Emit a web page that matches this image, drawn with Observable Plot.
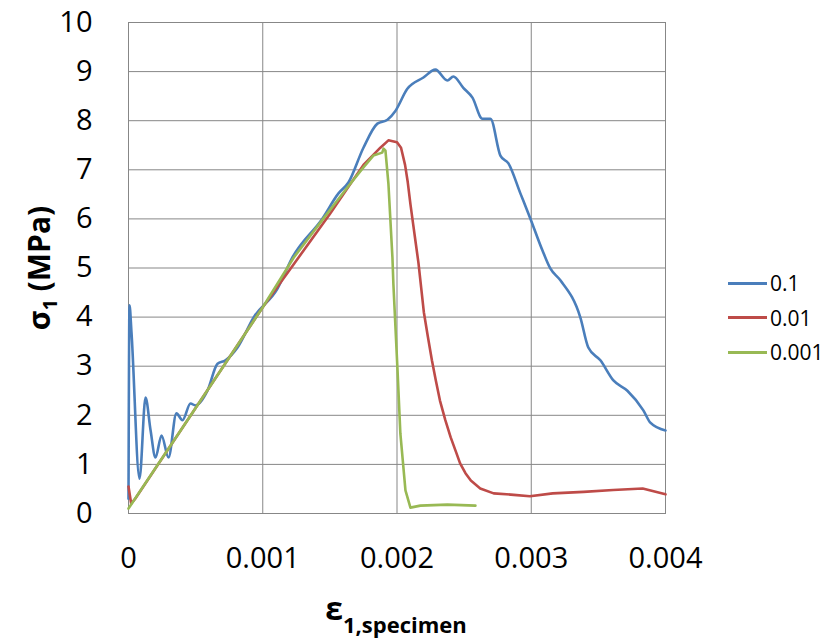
<!DOCTYPE html>
<html>
<head>
<meta charset="utf-8">
<script src="https://cdn.jsdelivr.net/npm/d3@7"></script>
<script src="https://cdn.jsdelivr.net/npm/@observablehq/plot@0.6"></script>
<style>
  html, body { margin: 0; padding: 0; background: #fff; }
  #wrap { position: relative; width: 836px; height: 639px; font-family: "Open Sans", sans-serif; }
  #legend { position: absolute; left: 728px; top: 266px; }
  .item { display: flex; align-items: center; height: 34.5px; font-size: 21px; color: #000; }
  .sw { width: 39px; height: 3px; margin-right: 3px; }
</style>
</head>
<body>
<div id="wrap"></div>
<script>
// Series names
const seriesNames = ["0.1", "0.01", "0.001"];
const seriesColors = ["#4a7ebb", "#be4b48", "#98b954"];

// Series 0.1
const strain01 = [0, 0.0000074, 0.000022, 0.000082, 0.000127, 0.000164, 0.000201, 0.000246, 0.000298, 0.000357, 0.000402, 0.000462, 0.000499, 0.000588, 0.000663, 0.000722, 0.000812, 0.000931, 0.00111, 0.00122, 0.001445, 0.001564, 0.001638, 0.00175, 0.001854, 0.001929, 0.001988, 0.002077, 0.002197, 0.002286, 0.002375, 0.00242, 0.002494, 0.002562, 0.002636, 0.002696, 0.00277, 0.00283, 0.002919, 0.002993, 0.003083, 0.003142, 0.003217, 0.003366, 0.003425, 0.003515, 0.003612, 0.003716, 0.003835, 0.003887, 0.004];
const stress01 = [0.3, 4.24, 3.7, 0.71, 2.36, 1.7, 1.14, 1.59, 1.14, 2.04, 1.9, 2.24, 2.2, 2.5, 3.05, 3.12, 3.38, 3.99, 4.58, 5.21, 6.01, 6.52, 6.74, 7.45, 7.94, 8.02, 8.2, 8.65, 8.88, 9.04, 8.82, 8.9, 8.67, 8.47, 8.04, 8.04, 7.29, 7.13, 6.52, 6.01, 5.36, 4.99, 4.75, 3.99, 3.38, 3.12, 2.71, 2.5, 2.1, 1.85, 1.69];

// Series 0.01
const strain001 = [0, 0.00002, 0.00005, 0.0005, 0.001, 0.0015, 0.00175, 0.00184, 0.001876, 0.001936, 0.002, 0.00203, 0.00206, 0.00208, 0.0021, 0.00212, 0.00214, 0.00216, 0.00218, 0.0022, 0.00223, 0.00226, 0.00229, 0.00232, 0.00236, 0.0024, 0.00244, 0.00247, 0.00251, 0.00255, 0.00262, 0.00272, 0.00287, 0.00299, 0.00316, 0.00339, 0.00361, 0.00383, 0.004];
const stress001 = [0.55, 0.2, 0.3, 2.15, 4.2, 6.1, 7.1, 7.35, 7.45, 7.6, 7.56, 7.45, 7.1, 6.75, 6.3, 5.9, 5.5, 5.1, 4.6, 4.1, 3.6, 3.12, 2.7, 2.3, 1.9, 1.55, 1.25, 1.02, 0.82, 0.67, 0.51, 0.41, 0.38, 0.35, 0.41, 0.44, 0.48, 0.51, 0.39];

// Series 0.001
const strain0001 = [0, 0.0005, 0.001, 0.00123, 0.00145, 0.00163, 0.00175, 0.001824, 0.00189, 0.0019, 0.001914, 0.001936, 0.001966, 0.001973, 0.002003, 0.002025, 0.002063, 0.0021, 0.002174, 0.002375, 0.002584];
const stress0001 = [0.1, 2.15, 4.2, 5.21, 6.0, 6.64, 7.05, 7.29, 7.35, 7.43, 7.39, 6.72, 5.21, 4.68, 2.97, 1.63, 0.47, 0.12, 0.16, 0.18, 0.16];

// Ticks
const xTicks = [0, 0.001, 0.002, 0.003, 0.004];
const xTickLabels = ["0", "0.001", "0.002", "0.003", "0.004"];
const yTicks = [0, 1, 2, 3, 4, 5, 6, 7, 8, 9, 10];
const yTickLabels = ["0", "1", "2", "3", "4", "5", "6", "7", "8", "9", "10"];

const toRows = (name, xs, ys) => xs.map((x, i) => ({series: name, x, y: ys[i]}));
const rowsBlue = toRows(seriesNames[0], strain01, stress01);
const rowsRed = toRows(seriesNames[1], strain001, stress001);
const rowsGreen = toRows(seriesNames[2], strain0001, stress0001);

const grid = "#878787";
const chart = Plot.plot({
  width: 836,
  height: 639,
  marginLeft: 128,
  marginRight: 171,
  marginTop: 22,
  marginBottom: 126,
  style: {fontFamily: "Open Sans, sans-serif", color: "#000", background: "#fff"},
  x: {domain: [0, 0.004]},
  y: {domain: [0, 10]},
  color: {domain: seriesNames, range: seriesColors},
  marks: [
    Plot.ruleX(xTicks, {x: d => d, stroke: grid, strokeWidth: 1}),
    Plot.ruleY(yTicks, {y: d => d, stroke: grid, strokeWidth: 1}),
    Plot.frame({stroke: grid, strokeWidth: 1}),
    Plot.axisX(xTicks, {tickSize: 0, tickPadding: 34, fontSize: 29, tickFormat: d => xTickLabels[xTicks.indexOf(d)], label: null}),
    Plot.axisY(yTicks, {tickSize: 0, tickPadding: 36, fontSize: 29, tickFormat: d => yTickLabels[yTicks.indexOf(d)], label: null}),
    Plot.line(rowsBlue, {x: "x", y: "y", stroke: "series", strokeWidth: 2.6, curve: "monotone-x"}),
    Plot.line(rowsRed, {x: "x", y: "y", stroke: "series", strokeWidth: 2.6, curve: "linear"}),
    Plot.line(rowsGreen, {x: "x", y: "y", stroke: "series", strokeWidth: 2.6, curve: "linear"})
  ]
});

const svg = d3.select(chart);
// X axis title
const xt = svg.append("text")
  .attr("x", 396).attr("y", 620)
  .attr("text-anchor", "middle")
  .attr("font-weight", "bold")
  .attr("fill", "#000")
  .style("font-family", "Open Sans, sans-serif");
xt.append("tspan").attr("font-size", 32).text("ε");
xt.append("tspan").attr("font-size", 22).attr("dy", 13).text("1,specimen");

// Y axis title
const yt = svg.append("text")
  .attr("transform", "translate(50,268) rotate(-90)")
  .attr("text-anchor", "middle")
  .attr("font-weight", "bold")
  .attr("fill", "#000")
  .attr("font-size", 30)
  .style("font-family", "Open Sans, sans-serif");
yt.append("tspan").text("σ");
yt.append("tspan").attr("font-size", 20).attr("dy", 7).text("1");
yt.append("tspan").attr("dy", -7).text(" (MPa)");

const wrap = document.getElementById("wrap");
wrap.appendChild(chart);

// Legend
const legend = document.createElement("div");
legend.id = "legend";
seriesNames.forEach((n, i) => {
  const it = document.createElement("div");
  it.className = "item";
  const sw = document.createElement("span");
  sw.className = "sw";
  sw.style.background = seriesColors[i];
  const tx = document.createElement("span");
  tx.textContent = n;
  it.appendChild(sw);
  it.appendChild(tx);
  legend.appendChild(it);
});
wrap.appendChild(legend);
</script>
</body>
</html>
